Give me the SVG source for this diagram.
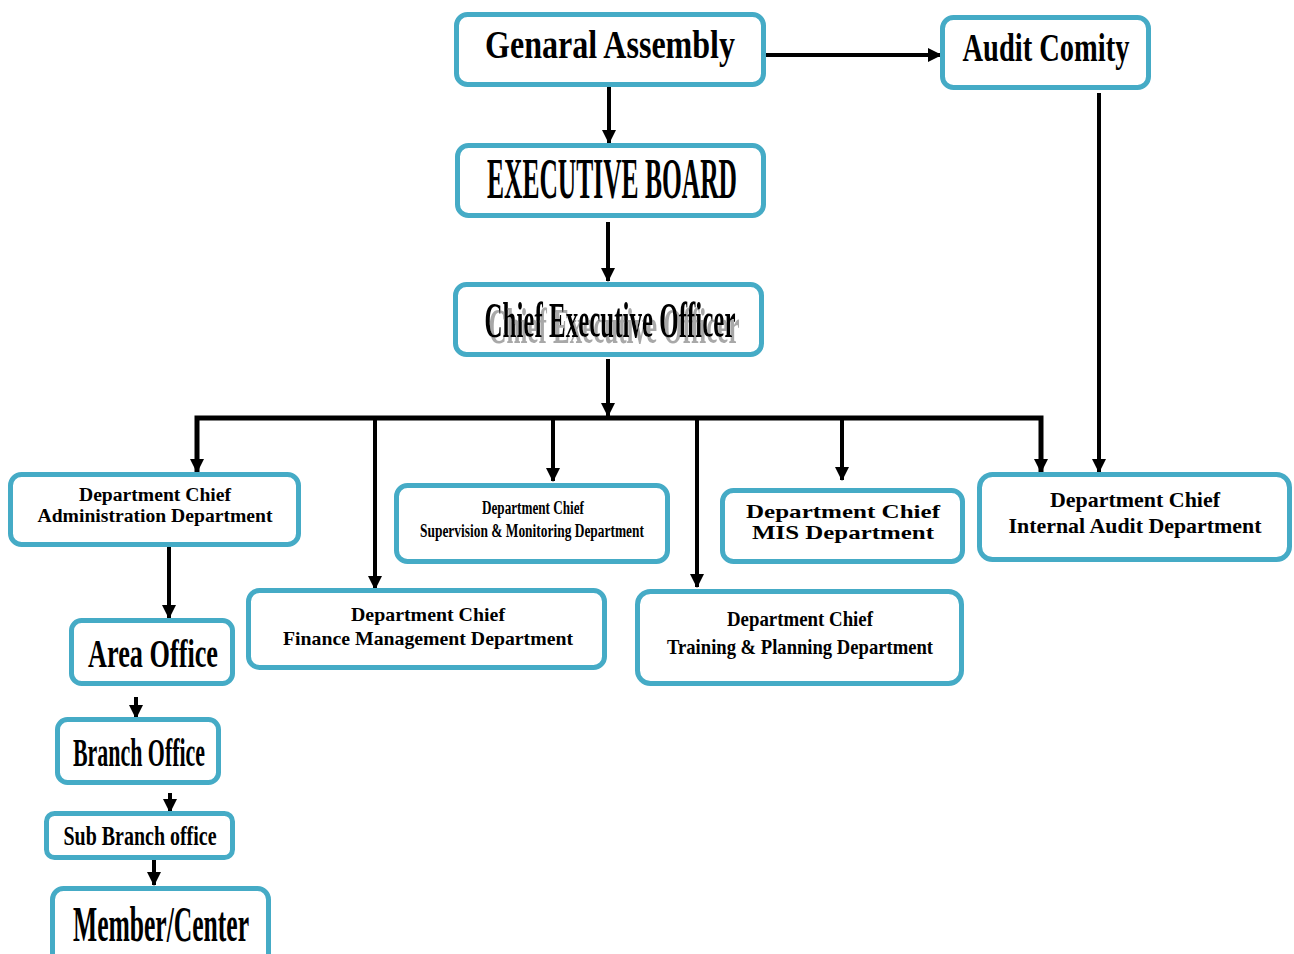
<svg xmlns="http://www.w3.org/2000/svg" width="1294" height="954" viewBox="0 0 1294 954">
<defs>
<marker id="ah" viewBox="0 0 14 14" refX="13" refY="7" markerWidth="14" markerHeight="14" markerUnits="userSpaceOnUse" orient="auto">
<path d="M0,0 L14,7 L0,14 Z" fill="#000"/>
</marker>
<filter id="shadow" x="-10%" y="-30%" width="120%" height="170%">
<feOffset in="SourceAlpha" dx="4" dy="6" result="off"/>
<feFlood flood-color="#a8a8a8"/>
<feComposite in2="off" operator="in" result="sh"/>
<feMerge><feMergeNode in="sh"/><feMergeNode in="SourceGraphic"/></feMerge>
</filter>
</defs>
<style>
.box{fill:#fff;stroke:#45abc6;stroke-width:5}
.t{font-family:"Liberation Serif","Times New Roman",serif;font-weight:bold;fill:#000;text-anchor:middle}
.c{stroke:#000;stroke-width:5;fill:none}
.a{stroke:#000;stroke-width:4;fill:none;marker-end:url(#ah)}
</style>
<rect width="1294" height="954" fill="#fff"/>
<g id="connectors">
<line class="a" x1="764" y1="55" x2="941" y2="55"/>
<line class="a" x1="609" y1="86" x2="609" y2="143"/>
<line class="a" x1="608" y1="222" x2="608" y2="281"/>
<line class="a" x1="608" y1="359" x2="608" y2="416"/>
<polyline class="c" points="197,472 197,418 1041,418 1041,472"/>
<line class="a" x1="197" y1="418" x2="197" y2="472"/>
<line class="a" x1="375" y1="418" x2="375" y2="589"/>
<line class="a" x1="553" y1="418" x2="553" y2="481"/>
<line class="a" x1="697" y1="418" x2="697" y2="587"/>
<line class="a" x1="842" y1="418" x2="842" y2="480"/>
<line class="a" x1="1041" y1="418" x2="1041" y2="472"/>
<line class="a" x1="1099" y1="93" x2="1099" y2="472"/>
<line class="a" x1="169" y1="545" x2="169" y2="618"/>
<line class="a" x1="136" y1="697" x2="136" y2="718"/>
<line class="a" x1="170" y1="793" x2="170" y2="812"/>
<line class="a" x1="154" y1="860" x2="154" y2="885"/>
</g>
<g id="general-assembly">
<rect class="box" x="456.500" y="14.500" width="307" height="70" rx="11"/>
<text class="t" x="610" y="58" font-size="40" textLength="250" lengthAdjust="spacingAndGlyphs">Genaral Assembly</text>
</g>
<g id="audit-comity">
<rect class="box" x="942.500" y="17.500" width="206" height="70" rx="11"/>
<text class="t" x="1046" y="61" font-size="40" textLength="167" lengthAdjust="spacingAndGlyphs">Audit Comity</text>
</g>
<g id="executive-board">
<rect class="box" x="457.500" y="145.500" width="306" height="70" rx="11"/>
<text class="t" x="612" y="198" font-size="56" textLength="250" lengthAdjust="spacingAndGlyphs">EXECUTIVE BOARD</text>
</g>
<g id="ceo">
<rect class="box" x="455.500" y="284.500" width="306" height="70" rx="11"/>
<text class="t" x="610" y="337" font-size="50" textLength="251" lengthAdjust="spacingAndGlyphs" filter="url(#shadow)">Chief Executive Officer</text>
</g>
<g id="admin-dept">
<rect class="box" x="10.500" y="474.500" width="288" height="70" rx="11"/>
<text class="t" x="155" y="501" font-size="18" textLength="152" lengthAdjust="spacingAndGlyphs">Department Chief</text>
<text class="t" x="155" y="522" font-size="18" textLength="235" lengthAdjust="spacingAndGlyphs">Administration Department</text>
</g>
<g id="supervision-dept">
<rect class="box" x="396.500" y="485.500" width="271" height="76" rx="11"/>
<text class="t" x="533" y="514" font-size="18" textLength="102" lengthAdjust="spacingAndGlyphs">Department Chief</text>
<text class="t" x="532" y="537" font-size="18" textLength="224" lengthAdjust="spacingAndGlyphs">Supervision &amp; Monitoring  Department</text>
</g>
<g id="mis-dept">
<rect class="box" x="722.500" y="490.500" width="240" height="71" rx="11"/>
<text class="t" x="843" y="518" font-size="19" textLength="194" lengthAdjust="spacingAndGlyphs">Department Chief</text>
<text class="t" x="843" y="539" font-size="19" textLength="182" lengthAdjust="spacingAndGlyphs">MIS Department</text>
</g>
<g id="internal-audit-dept">
<rect class="box" x="979.500" y="474.500" width="310" height="85" rx="13"/>
<text class="t" x="1135" y="507" font-size="21" textLength="170" lengthAdjust="spacingAndGlyphs">Department Chief</text>
<text class="t" x="1135" y="533" font-size="21" textLength="253" lengthAdjust="spacingAndGlyphs">Internal Audit Department</text>
</g>
<g id="finance-dept">
<rect class="box" x="248.500" y="590.500" width="356" height="77" rx="11"/>
<text class="t" x="428" y="621" font-size="19" textLength="154" lengthAdjust="spacingAndGlyphs">Department Chief</text>
<text class="t" x="428" y="645" font-size="19" textLength="290" lengthAdjust="spacingAndGlyphs">Finance Management Department</text>
</g>
<g id="training-dept">
<rect class="box" x="637.500" y="591.500" width="324" height="92" rx="13"/>
<text class="t" x="800" y="626" font-size="21" textLength="146" lengthAdjust="spacingAndGlyphs">Department Chief</text>
<text class="t" x="800" y="654" font-size="21" textLength="266" lengthAdjust="spacingAndGlyphs">Training &amp; Planning Department</text>
</g>
<g id="area-office">
<rect class="box" x="71.500" y="620.500" width="161" height="63" rx="10"/>
<text class="t" x="153" y="667" font-size="40" textLength="130" lengthAdjust="spacingAndGlyphs">Area Office</text>
</g>
<g id="branch-office">
<rect class="box" x="57.500" y="719.500" width="161" height="63" rx="10"/>
<text class="t" x="139" y="766" font-size="40" textLength="132" lengthAdjust="spacingAndGlyphs">Branch Office</text>
</g>
<g id="sub-branch-office">
<rect class="box" x="46.500" y="813.500" width="186" height="44" rx="8"/>
<text class="t" x="140" y="845" font-size="28" textLength="153" lengthAdjust="spacingAndGlyphs">Sub Branch office</text>
</g>
<g id="member-center">
<rect class="box" x="52.500" y="888.500" width="216" height="80" rx="11"/>
<text class="t" x="161" y="941" font-size="50" textLength="176" lengthAdjust="spacingAndGlyphs">Member/Center</text>
</g>
</svg>
